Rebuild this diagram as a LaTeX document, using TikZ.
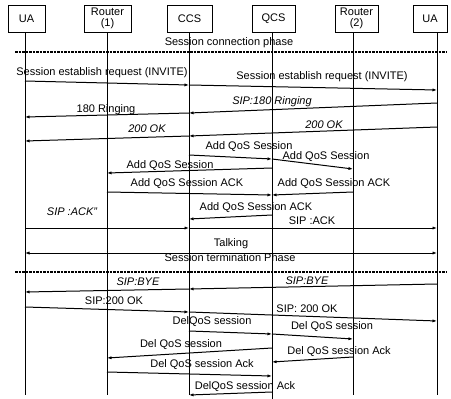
\documentclass[tikz,border=0pt]{standalone}
\usepackage{fontspec}
\setmainfont{Liberation Sans}
\usetikzlibrary{arrows.meta}
\begin{document}
\begin{tikzpicture}[x=1pt,y=-1pt,
  box/.style={draw,line width=0.9pt,minimum height=27pt,inner sep=0pt,align=center,font=\fontsize{11}{10.5}\selectfont},
  life/.style={line width=1pt},
  msg/.style={line width=1pt,-{Latex[length=4.5pt,width=3.2pt]}},
  dmsg/.style={line width=1pt,{Latex[length=4.5pt,width=3.2pt]}-{Latex[length=4.5pt,width=3.2pt]}},
  lbl/.style={inner sep=0pt,font=\fontsize{11}{12}\selectfont},
  ilbl/.style={inner sep=0pt,font=\fontsize{11}{12}\selectfont\itshape},
  phase/.style={line width=1.7pt,dash pattern=on 2.5pt off 1pt}]
\useasboundingbox (0,0) rectangle (451,399);
% heads
\node[box,minimum width=37pt] (ua1) at (26.5,18.5) {UA};
\node[box,minimum width=47pt] (r1) at (107.5,18.5) {Router\\(1)};
\node[box,minimum width=45pt] (ccs) at (189.5,18.5) {CCS};
\node[box,minimum width=43pt] (qcs) at (273.5,18.5) {QCS};
\node[box,minimum width=43pt] (r2) at (356.5,18.5) {Router\\(2)};
\node[box,minimum width=34pt] (ua2) at (430,18.5) {UA};
% lifelines
\coordinate (l1t) at (25,32);  \coordinate (l1b) at (25,395);
\coordinate (l2t) at (107,32); \coordinate (l2b) at (107,395);
\coordinate (l3t) at (189,32); \coordinate (l3b) at (189,395);
\coordinate (l4t) at (272,32); \coordinate (l4b) at (272,399);
\coordinate (l5t) at (353,32); \coordinate (l5b) at (353,395);
\coordinate (l6t) at (437,32); \coordinate (l6b) at (437,395);
\foreach \k in {1,...,6} {\draw[life] (l\k t) -- (l\k b);}
% phases
\node[lbl] (ph1) at (229,43) {Session connection phase};
\coordinate (d1a) at (15,52); \coordinate (d1b) at (447,52);
\draw[phase] (d1a) -- (d1b);
\node[lbl] (ph2) at (230,258) {Session termination Phase};
\coordinate (d2a) at (15,272); \coordinate (d2b) at (447,272);
\draw[phase] (d2a) -- (d2b);
% talking
\coordinate (tka) at (25,253); \coordinate (tkb) at (437,253);
\draw[dmsg] (tka) -- (tkb);
\node[lbl] (tk) at (231,244) {Talking};
% messages
\foreach \n/\xa/\ya/\xb/\yb/\st/\lx/\ly/\txt in {
  1/25/81/189/85/lbl/102/73/Session establish request (INVITE),
  2/189/85/437/90/lbl/322/77/Session establish request (INVITE),
  3/437/103/189/113/ilbl/272/102/SIP:180 Ringing,
  4/189/113/25/117/lbl/106/110/180 Ringing,
  5/437/127/189/136/ilbl/324/125/200 OK,
  6/189/136/25/141/ilbl/147/129/200 OK,
  7/189/155/272/159/lbl/249/147/Add QoS Session,
  8/272/159/353/169/lbl/326/157/Add QoS Session,
  9/272/168/107/173/lbl/170/166/Add QoS Session,
  10/107/192/272/195/lbl/187/184/Add QoS Session ACK,
  11/353/192/272/195/lbl/334/184/Add QoS Session ACK,
  12/272/215/189/219/lbl/256/208/Add QoS Session ACK,
  13/25/228/189/228/ilbl/72/212/SIP :ACK'',
  14/189/228/437/228/lbl/312/221/SIP :ACK,
  16/437/284/189/289/ilbl/307/281/SIP:BYE,
  17/189/289/25/292/ilbl/138/282/SIP:BYE,
  18/25/307/189/312/lbl/114/301/SIP:200 OK,
  19/189/312/437/321/lbl/307/309/SIP: 200 OK,
  20/189/331/272/334/lbl/212/322/DelQoS session,
  21/272/334/353/339/lbl/332/327/Del QoS session,
  22/272/348/107/358/lbl/181/345/Del QoS session,
  23/353/357/272/362/lbl/339/352/Del QoS session Ack,
  24/107/372/272/376/lbl/202/365/Del QoS session Ack,
  25/272/392/189/395/lbl/245/387/DelQoS session Ack} {
  \coordinate (a\n) at (\xa,\ya);
  \coordinate (b\n) at (\xb,\yb);
  \draw[msg] (a\n) -- (b\n);
  \node[\st] (t\n) at (\lx,\ly) {\txt};
}
\end{tikzpicture}
\end{document}
